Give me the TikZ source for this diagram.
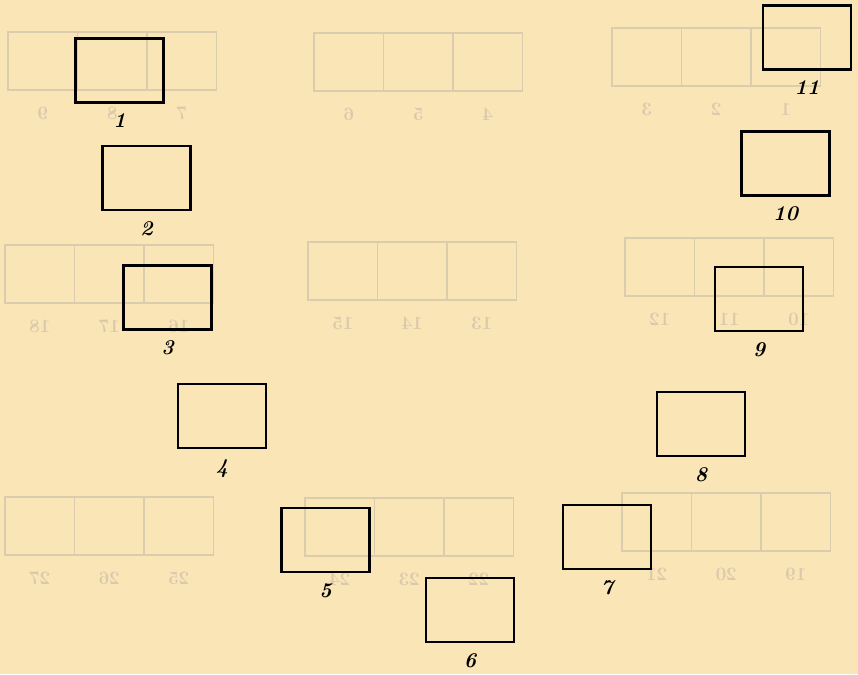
\documentclass[tikz,border=0pt]{standalone}
\usepackage{graphicx}
\usetikzlibrary{positioning}

\definecolor{paper}{RGB}{250,229,183}
\definecolor{ghostline}{RGB}{220,204,174}
\definecolor{ghosttext}{RGB}{218,202,172}

\tikzset{
  cell/.style={draw=ghostline, line width=1.5pt, minimum width=69.5pt, minimum height=58pt, inner sep=0pt},
  ghost/.style={text=ghosttext, font=\fontsize{19}{21}\selectfont\bfseries, inner sep=0pt},
  slot/.style={draw=black, line width=2.5pt, minimum width=88pt, minimum height=64pt, inner sep=0pt},
  slotnum/.style={font=\fontsize{21}{23}\selectfont\bfseries\itshape, inner sep=0pt}
}

\begin{document}
\begin{tikzpicture}[x=1pt,y=-1pt]
\fill[paper] (0,0) rectangle (858,674);
\useasboundingbox (0,0) rectangle (858,674);

% faint rows of cells showing through the paper
\foreach \tx/\ty/\la/\lb/\lc [count=\i] in {8/32/9/8/7, 314/33/6/5/4, 612/28/3/2/1,
    5/245/18/17/16, 308/242/15/14/13, 625/238/12/11/10,
    5/497/27/26/25, 305/498/24/23/22, 622/493/21/20/19}
{
  \foreach \k/\lab in {0/\la, 1/\lb, 2/\lc}
  {
    \node[cell] (c\i\k) at (\tx+34.75+69.5*\k, \ty+29) {};
    \node[ghost, below=16pt of c\i\k] (n\i\k) {\reflectbox{\lab}};
  }
}

% numbered frames
\foreach \n/\x/\y in {1/119.5/70.5, 2/146.5/178, 3/167.5/297.5, 4/222/416,
    5/325.5/540, 6/470/610, 7/607/537, 8/701/424, 9/759/299,
    10/785.5/163.5, 11/807/37.5}
{
  \node[slot] (b\n) at (\x,\y) {};
  \node[slotnum, below=10pt of b\n] (l\n) {\n};
}
\end{tikzpicture}
\end{document}
